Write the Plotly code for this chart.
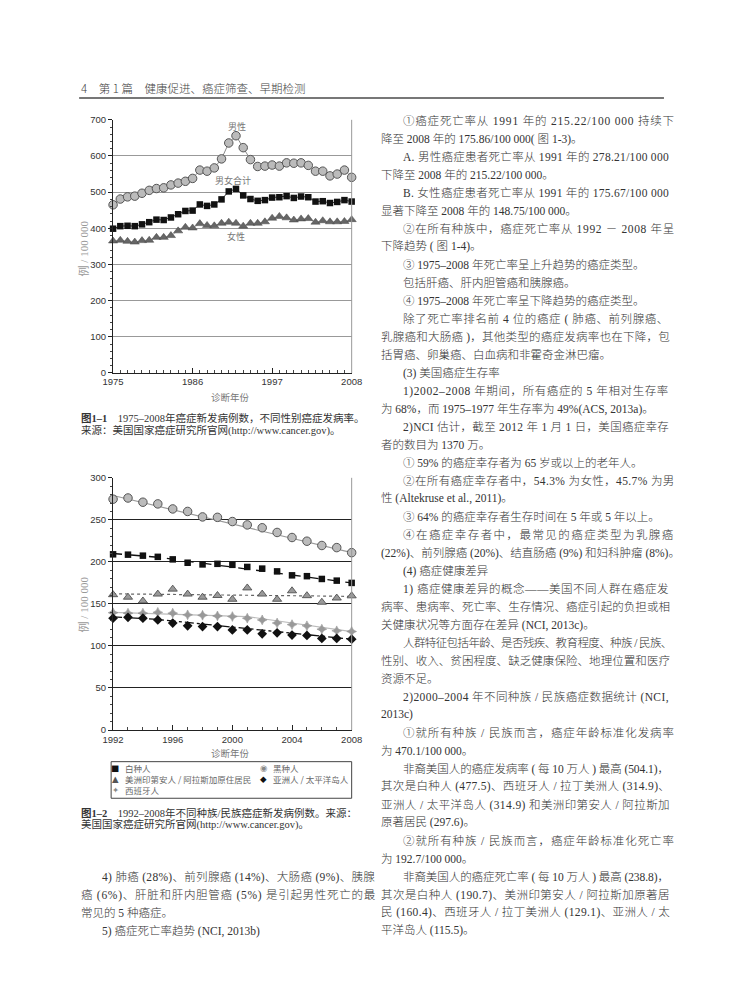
import plotly.graph_objects as go

W, H = 730, 997


def px(x):
    return x / W


def py(y):
    return 1 - y / H


# ---------------- data: figure 1-1 ----------------
years1 = list(range(1975, 2009))
male = [465, 481, 487, 489, 497, 505, 510, 512, 520, 525, 530, 538, 561, 558, 567, 592, 636,
        656, 623, 590, 571, 572, 575, 572, 581, 580, 581, 574, 558, 558, 545, 550, 561, 541]
total = [399, 406, 407, 406, 411, 417, 424, 423, 430, 439, 448, 449, 466, 462, 466, 480, 502,
         509, 491, 481, 476, 478, 485, 486, 489, 484, 488, 486, 474, 475, 470, 473, 478, 474]
female = [365, 367, 364, 362, 366, 367, 375, 375, 380, 393, 403, 401, 413, 408, 407, 414, 417,
          414, 406, 414, 414, 418, 428, 433, 429, 423, 426, 427, 417, 421, 418, 418, 419, 424]
ticks1 = [1975, 1986, 1997, 2008]

# ---------------- data: figure 1-2 ----------------
years2 = list(range(1992, 2009))
white = [209, 208.6, 207.4, 206, 203, 199, 197, 197.7, 196.5, 194, 192, 188.7, 184, 183, 179.7, 177.7, 175]
black = [274.6, 276, 271, 269, 263, 260, 253.5, 253, 248, 244, 240.6, 235, 229, 224.6, 219.5, 217, 211]
amind = [161, 158, 153.5, 161.7, 167.6, 161.7, 158, 160, 155.5, 169, 161.7, 155.5, 165.6, 159.8, 152, 157, 159.6]
hisp = [139.5, 139, 139, 140, 139, 137, 136.5, 135.7, 135, 133, 131, 127.3, 125.4, 124, 120, 118, 117.2]
asian = [133, 134, 133, 131, 127.3, 124, 123, 123, 119, 119, 114.5, 115.6, 113, 112.5, 109, 109, 108]
# fitted trend lines (breakpoints)
white_tx, white_ty = [1992, 1995, 2008], [210, 205.5, 175]
black_tx, black_ty = [1992, 2008], [279, 211]
amind_tx, amind_ty = [1992, 2008], [162, 159]
hisp_tx, hisp_ty = [1992, 2001, 2008], [140, 135, 117]
asian_tx, asian_ty = [1992, 1995, 2008], [134.5, 131.5, 108]
ticks2 = [1992, 1996, 2000, 2004, 2008]

legend_names = ["白种人", "黑种人", "美洲印第安人 / 阿拉斯加原住居民", "亚洲人 / 太平洋岛人", "西班牙人"]
legend_glyphs = ["■", "◉", "▲", "◆", "✦"]
legend_colors = ["#111", "#888", "#555", "#111", "#888"]

# ---------------- text ----------------
header = "4　第 1 篇　健康促进、癌症筛查、早期检测"
cap1 = ["<b>图1–1</b>　1975–2008年癌症新发病例数，不同性别癌症发病率。",
        "来源：美国国家癌症研究所官网(http://www.cancer.gov)。"]
cap2 = ["<b>图1–2</b>　1992–2008年不同种族/民族癌症新发病例数。来源：",
        "美国国家癌症研究所官网(http://www.cancer.gov)。"]
left_body = [
    (1, "4) 肺癌 (28%)、前列腺癌 (14%)、大肠癌 (9%)、胰腺"),
    (0, "癌 (6%)、肝脏和肝内胆管癌 (5%) 是引起男性死亡的最"),
    (0, "常见的 5 种癌症。"),
    (1, "5) 癌症死亡率趋势 (NCI, 2013b)"),
]
right_body = [
    (1, "①癌症死亡率从 1991 年的 215.22/100 000 持续下"),
    (0, "降至 2008 年的 175.86/100 000( 图 1-3)。"),
    (1, "A. 男性癌症患者死亡率从 1991 年的 278.21/100 000"),
    (0, "下降至 2008 年的 215.22/100 000。"),
    (1, "B. 女性癌症患者死亡率从 1991 年的 175.67/100 000"),
    (0, "显著下降至 2008 年的 148.75/100 000。"),
    (1, "②在所有种族中，癌症死亡率从 1992 － 2008 年呈"),
    (0, "下降趋势 ( 图 1-4)。"),
    (1, "③ 1975–2008 年死亡率呈上升趋势的癌症类型。"),
    (1, "包括肝癌、肝内胆管癌和胰腺癌。"),
    (1, "④ 1975–2008 年死亡率呈下降趋势的癌症类型。"),
    (1, "除了死亡率排名前 4 位的癌症 ( 肺癌、前列腺癌、"),
    (0, "乳腺癌和大肠癌 )，其他类型的癌症发病率也在下降，包"),
    (0, "括胃癌、卵巢癌、白血病和非霍奇金淋巴瘤。"),
    (1, "(3) 美国癌症生存率"),
    (1, "1)2002–2008 年期间，所有癌症的 5 年相对生存率"),
    (0, "为 68%，而 1975–1977 年生存率为 49%(ACS, 2013a)。"),
    (1, "2)NCI 估计，截至 2012 年 1 月 1 日，美国癌症幸存"),
    (0, "者的数目为 1370 万。"),
    (1, "① 59% 的癌症幸存者为 65 岁或以上的老年人。"),
    (1, "②在所有癌症幸存者中，54.3% 为女性，45.7% 为男"),
    (0, "性 (Altekruse et al., 2011)。"),
    (1, "③ 64% 的癌症幸存者生存时间在 5 年或 5 年以上。"),
    (1, "④在癌症幸存者中，最常见的癌症类型为乳腺癌"),
    (0, "(22%)、前列腺癌 (20%)、结直肠癌 (9%) 和妇科肿瘤 (8%)。"),
    (1, "(4) 癌症健康差异"),
    (1, "1) 癌症健康差异的概念——美国不同人群在癌症发"),
    (0, "病率、患病率、死亡率、生存情况、癌症引起的负担或相"),
    (0, "关健康状况等方面存在差异 (NCI, 2013c)。"),
    (1, "人群特征包括年龄、是否残疾、教育程度、种族 / 民族、"),
    (0, "性别、收入、贫困程度、缺乏健康保险、地理位置和医疗"),
    (0, "资源不足。"),
    (1, "2)2000–2004 年不同种族 / 民族癌症数据统计 (NCI,"),
    (0, "2013c)"),
    (1, "①就所有种族 / 民族而言，癌症年龄标准化发病率"),
    (0, "为 470.1/100 000。"),
    (1, "非裔美国人的癌症发病率 ( 每 10 万人 ) 最高 (504.1)，"),
    (0, "其次是白种人 (477.5)、西班牙人 / 拉丁美洲人 (314.9)、"),
    (0, "亚洲人 / 太平洋岛人 (314.9) 和美洲印第安人 / 阿拉斯加"),
    (0, "原著居民 (297.6)。"),
    (1, "②就所有种族 / 民族而言，癌症年龄标准化死亡率"),
    (0, "为 192.7/100 000。"),
    (1, "非裔美国人的癌症死亡率 ( 每 10 万人 ) 最高 (238.8)，"),
    (0, "其次是白种人 (190.7)、美洲印第安人 / 阿拉斯加原著居"),
    (0, "民 (160.4)、西班牙人 / 拉丁美洲人 (129.1)、亚洲人 / 太"),
    (0, "平洋岛人 (115.5)。"),
]

BODY_FONT = "Liberation Serif, Noto Sans CJK SC, serif"
CJK_SANS = "Noto Sans CJK SC, sans-serif"
TICK_FONT = dict(family="Liberation Sans, Arial, sans-serif", size=9.5, color="#333")
BODY_SIZE = 11.5
BODY_COLOR = "#333"

fig = go.Figure()

# ---- figure 1-1 traces ----
fig.add_trace(go.Scatter(x=years1, y=male, mode="lines+markers", xaxis="x", yaxis="y",
                         line=dict(color="#888", width=1), cliponaxis=False,
                         marker=dict(symbol="circle", size=8.5, color="#bbbbbb",
                                     line=dict(color="#555", width=1))))
fig.add_trace(go.Scatter(x=years1, y=total, mode="lines+markers", xaxis="x", yaxis="y",
                         line=dict(color="#333", width=1), cliponaxis=False,
                         marker=dict(symbol="square", size=6.5, color="#111")))
fig.add_trace(go.Scatter(x=years1, y=female, mode="lines+markers", xaxis="x", yaxis="y",
                         line=dict(color="#999", width=0.8), cliponaxis=False,
                         marker=dict(symbol="triangle-up", size=8, color="#666",
                                     line=dict(color="#444", width=0.5))))

# ---- figure 1-2 trend lines ----
fig.add_trace(go.Scatter(x=black_tx, y=black_ty, mode="lines", xaxis="x2", yaxis="y2",
                         line=dict(color="#999", width=1.2)))
fig.add_trace(go.Scatter(x=white_tx, y=white_ty, mode="lines", xaxis="x2", yaxis="y2",
                         line=dict(color="#111", width=1.3, dash="dash")))
fig.add_trace(go.Scatter(x=amind_tx, y=amind_ty, mode="lines", xaxis="x2", yaxis="y2",
                         line=dict(color="#666", width=1.2, dash="dot")))
fig.add_trace(go.Scatter(x=hisp_tx, y=hisp_ty, mode="lines", xaxis="x2", yaxis="y2",
                         line=dict(color="#bbb", width=1.2)))
fig.add_trace(go.Scatter(x=asian_tx, y=asian_ty, mode="lines", xaxis="x2", yaxis="y2",
                         line=dict(color="#111", width=1.3, dash="dashdot")))
# ---- figure 1-2 markers ----
fig.add_trace(go.Scatter(x=years2, y=black, mode="markers", xaxis="x2", yaxis="y2", cliponaxis=False,
                         marker=dict(symbol="circle", size=8.5, color="#bbbbbb",
                                     line=dict(color="#555", width=1))))
fig.add_trace(go.Scatter(x=years2, y=white, mode="markers", xaxis="x2", yaxis="y2", cliponaxis=False,
                         marker=dict(symbol="square", size=6.5, color="#111")))
fig.add_trace(go.Scatter(x=years2, y=amind, mode="markers", xaxis="x2", yaxis="y2", cliponaxis=False,
                         marker=dict(symbol="triangle-up", size=8, color="#999",
                                     line=dict(color="#444", width=0.8))))
fig.add_trace(go.Scatter(x=years2, y=hisp, mode="markers", xaxis="x2", yaxis="y2", cliponaxis=False,
                         marker=dict(symbol="star-diamond", size=7, color="#999",
                                     line=dict(color="#888", width=0.5))))
fig.add_trace(go.Scatter(x=years2, y=asian, mode="markers", xaxis="x2", yaxis="y2", cliponaxis=False,
                         marker=dict(symbol="diamond", size=7.5, color="#111")))

axis_common = dict(showline=True, linecolor="#222", linewidth=1.2, zeroline=False,
                   tickfont=TICK_FONT, ticks="outside", ticklen=4, tickcolor="#222")

fig.update_layout(
    width=W, height=H, margin=dict(l=0, r=0, t=0, b=0),
    paper_bgcolor="white", plot_bgcolor="white", showlegend=False,
    xaxis=dict(domain=[px(97), px(343)], range=[1975, 2008], tickvals=ticks1, anchor="y",
               showgrid=False, minor=dict(dtick=1, tick0=1975, ticks="inside", ticklen=3,
                                          tickcolor="#444"),
               **{**axis_common, "ticks": "inside", "ticklen": 5}),
    yaxis=dict(domain=[py(363), py(107)], range=[0, 700], dtick=100, anchor="x",
               showgrid=True, gridcolor="#999", gridwidth=1,
               minor=dict(dtick=20, ticks="outside", ticklen=2, tickcolor="#444"),
               **axis_common),
    xaxis2=dict(domain=[px(97), px(343)], range=[1992, 2008], tickvals=ticks2, anchor="y2",
                showgrid=False, minor=dict(dtick=1, tick0=1992, ticks="inside", ticklen=3,
                                           tickcolor="#444"),
                **{**axis_common, "ticks": "inside", "ticklen": 5}),
    yaxis2=dict(domain=[py(724), py(469)], range=[0, 300], dtick=50, anchor="x2",
                showgrid=True, gridcolor="#222", gridwidth=1,
                minor=dict(dtick=10, ticks="outside", ticklen=2, tickcolor="#444"),
                **axis_common),
)

shapes = []
for xr, yr in (("x", "y"), ("x2", "y2")):
    shapes.append(dict(type="line", xref=f"{xr} domain", yref=f"{yr} domain",
                       x0=1, x1=1, y0=0, y1=1, line=dict(color="#999", width=1)))
shapes.append(dict(type="line", xref="paper", yref="paper", x0=px(62), x1=px(665),
                   y0=py(85), y1=py(85), line=dict(color="#777", width=2)))
shapes.append(dict(type="rect", xref="paper", yref="paper", x0=px(95), x1=px(343),
                   y0=py(756), y1=py(793), line=dict(color="#444", width=1)))

ann = []


def text(x, y, s, size=BODY_SIZE, color=BODY_COLOR, family=BODY_FONT, xanchor="left", angle=0,
         weight=None):
    f = dict(family=family, size=size, color=color)
    if weight:
        f["weight"] = weight
    ann.append(dict(x=px(x), y=py(y), xref="paper", yref="paper", text=s, showarrow=False,
                    xanchor=xanchor, yanchor="middle", textangle=angle, font=f))


# approximate glyph advance widths (em) for justification
LAT = {' ': .25, '.': .25, ',': .25, '/': .278, '(': .333, ')': .333, '%': .833, '-': .333,
       '–': .5, '—': 1.0, ':': .278, ';': .278}
UPPER = {'A': .722, 'B': .667, 'C': .667, 'N': .722, 'I': .333, 'S': .556, 'E': .611}
LOWER = {'a': .444, 'c': .444, 'e': .444, 'i': .278, 'k': .5, 'l': .278, 'r': .333,
         's': .389, 't': .278, 'u': .5, 'n': .5, 'o': .5}


def char_w(c):
    if c.isdigit():
        return .5
    for tbl in (LAT, UPPER, LOWER):
        if c in tbl:
            return tbl[c]
    if c.isascii():
        return .5
    return 1.0


def justified(s, target, size=BODY_SIZE):
    natural = sum(char_w(c) for c in s) * size
    ls = (target - natural) / max(len(s), 1)
    ls = max(-0.6, min(ls, 4.0))
    return f"<span style='letter-spacing:{ls:.2f}px'>{s}</span>"


def column(lines, x_left, x_ind, x_right, first_idx):
    for i, (ind, s) in enumerate(lines):
        x = x_ind if ind else x_left
        cont = i + 1 < len(lines) and lines[i + 1][0] == 0
        t = justified(s, x_right - x) if cont else s
        text(x, LINE0 + (first_idx + i) * STEP, t, weight=300)


text(62, 75, header, size=11.5, color="#444", family=CJK_SANS, weight=300)

# chart labels
text(225, 114, "男性", size=9, color="#777", xanchor="center", family=CJK_SANS)
text(221, 168, "男女合计", size=9, color="#777", xanchor="center", family=CJK_SANS)
text(224, 225, "女性", size=9, color="#777", xanchor="center", family=CJK_SANS)
text(218, 387, "诊断年份", size=9.5, color="#777", xanchor="center", family=CJK_SANS)
text(66, 237, "例 / 100 000", size=11, color="#999", xanchor="center", angle=-90)
text(218, 747, "诊断年份", size=9.5, color="#777", xanchor="center", family=CJK_SANS)
text(66, 597, "例 / 100 000", size=11, color="#999", xanchor="center", angle=-90)

# legend entries (2 columns, row-major)
for i, (g, n, c) in enumerate(zip(legend_glyphs, legend_names, legend_colors)):
    col, row = i % 2, i // 2
    gx = 99 + col * 153
    gy = 762 + row * 11.5
    text(gx, gy, g, size=8.5, color=c, family="DejaVu Sans", xanchor="center")
    text(gx + 8, gy, n, size=8.5, color="#666", family=CJK_SANS)

# captions
text(62, 409, cap1[0], size=10.5)
text(62, 421, cap1[1], size=10.5)
text(62, 808, cap2[0], size=10.5)
text(62, 820, cap2[1], size=10.5)

# body text
LINE0, STEP = 108, 18.2
column(right_body, 371, 394, 660, 0)
column(left_body, 62, 84, 357, 42)

fig.update_layout(shapes=shapes, annotations=ann)
fig.write_html("out.html")
